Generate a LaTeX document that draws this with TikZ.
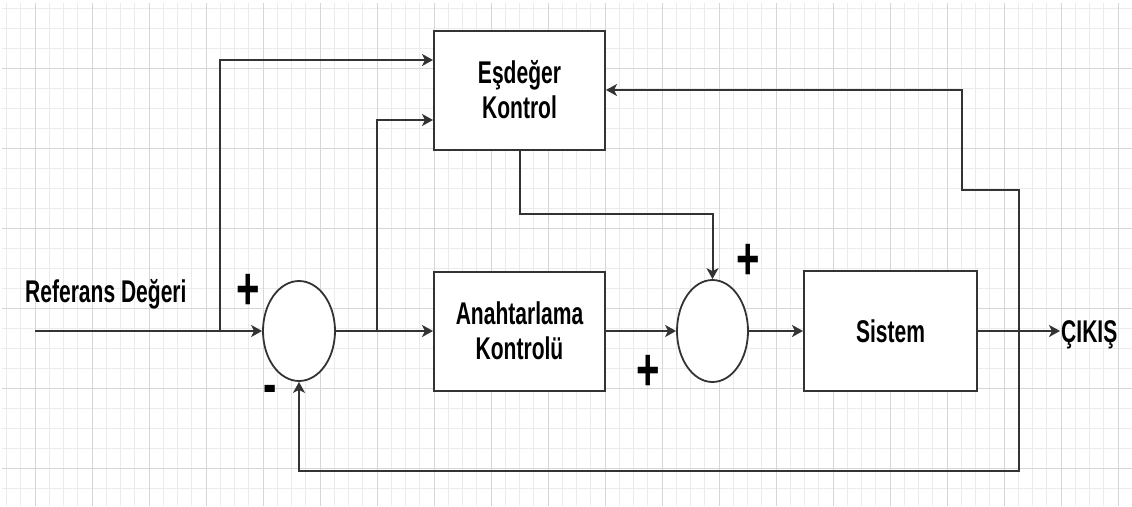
\documentclass[tikz,border=0pt]{standalone}
\usepackage{fontspec}
\usetikzlibrary{arrows.meta,shapes.geometric}
\newfontfamily\diafont[FakeStretch=0.67]{Liberation Sans}
\begin{document}
\begin{tikzpicture}[x=1pt,y=-1pt,
  line/.style={draw=black!80, line width=2pt},
  arr/.style={line, -{Stealth[length=11pt,width=12pt,inset=3pt]}},
  block/.style={draw=black!80, line width=2pt, fill=white, rectangle,
    minimum width=171pt, minimum height=119pt, inner sep=0pt,
    font=\diafont\bfseries\fontsize{31.4}{35}\selectfont, align=center, text=black},
  sumnode/.style={draw=black!80, line width=1.8pt, fill=white, ellipse,
    minimum width=72pt, minimum height=100pt, inner sep=0pt},
  lbl/.style={font=\diafont\bfseries\fontsize{31.4}{35}\selectfont, inner sep=0pt, text=black},
  sign/.style={font=\diafont\bfseries\fontsize{60}{60}\selectfont, inner sep=0pt, text=black},
  minorgrid/.style={draw=black!8, line width=1pt},
  majorgrid/.style={draw=black!16, line width=1pt}]
\fill[white] (0,0) rectangle (1132,506);
\useasboundingbox (0,0) rectangle (1132,506);
% grid
\foreach \k in {0,...,78} \draw[minorgrid] ({6.5+14.25*\k},3) -- ({6.5+14.25*\k},506);
\foreach \k in {0,...,24} \draw[minorgrid] (2,{8+20*\k}) -- (1132,{8+20*\k});
\foreach \k in {0,...,19} \draw[majorgrid] ({35+57*\k},3) -- ({35+57*\k},506);
\foreach \k in {0,...,5} \draw[majorgrid] (2,{68+80*\k}) -- (1132,{68+80*\k});
% blocks
\node[block] (eq) at (519.5,90) {Eşdeğer\\Kontrol};
\node[block] (ak) at (519.5,331) {Anahtarlama\\Kontrolü};
\node[block, minimum width=173pt, minimum height=120pt] (sis) at (890.5,331) {Sistem};
\node[sumnode] (s1) at (299,331) {};
\node[sumnode, minimum width=71pt, minimum height=102pt] (s2) at (712.5,331) {};
% coordinates
\coordinate (in) at (35,331);
\coordinate (b1) at (220,331);
\coordinate (b2) at (377,331);
\coordinate (k) at (712.5,214);
\coordinate (out) at (1060,331);
\coordinate (f1) at (1019,331);
\coordinate (f2) at (1019,190);
\coordinate (f3) at (962,190);
\coordinate (f4) at (1019,471);
\coordinate (f5) at (299,471);
% connectors
\draw[arr] (in) -- (s1);
\draw[arr] (b1) |- ([yshift=30pt]eq.west);
\draw[arr] (s1) -- (ak);
\draw[arr] (b2) |- ([yshift=-30pt]eq.west);
\draw[arr] (eq.south) |- (k) -- (s2.north);
\draw[arr] (ak) -- (s2);
\draw[arr] (s2) -- (sis);
\draw[arr] (sis) -- (out);
\draw[arr] (f1) -- (f2) -- (f3) |- (eq.east);
\draw[arr] (f1) -- (f4) -- (f5) -- (s1.south);
% labels
\node[lbl, anchor=base west] (ref) at (25,302) {Referans Değeri};
\node[lbl, anchor=base west] (cik) at (1061,342) {ÇIKIŞ};
\node[sign] (p1) at (248,292) {+};
\node[sign] (m1) at (270,395) {-};
\node[sign] (p2) at (748,262) {+};
\node[sign] (p3) at (648,373) {+};
\end{tikzpicture}
\end{document}
